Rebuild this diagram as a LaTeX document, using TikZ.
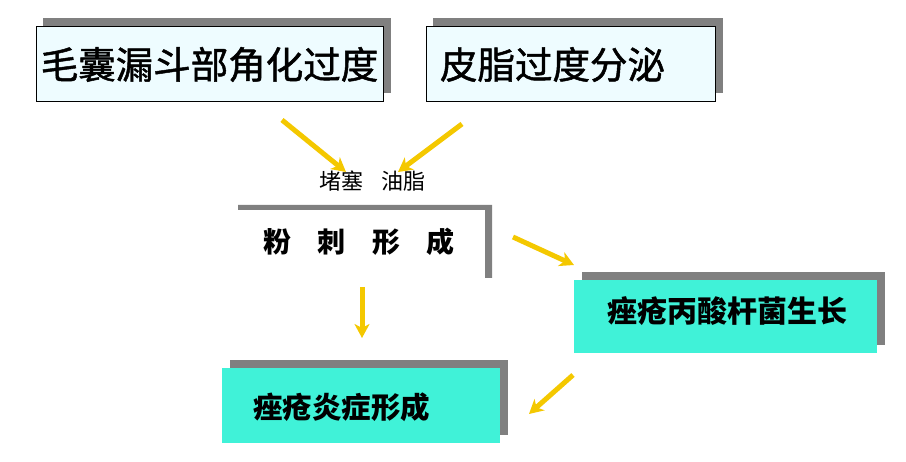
\documentclass[tikz,border=0pt]{standalone}
\usepackage{fontspec}
\setmainfont{Noto Sans CJK SC}
\newfontfamily\cjkmed[FakeBold=1.3]{Noto Sans CJK SC}
\usetikzlibrary{arrows.meta}
\definecolor{paleblue}{RGB}{238,252,255}
\definecolor{turq}{RGB}{64,242,216}
\definecolor{shadowgray}{RGB}{128,128,128}
\definecolor{arrowgold}{RGB}{244,200,0}
\begin{document}
\begin{tikzpicture}[x=1pt,y=-1pt,
  shadowrect/.style={fill=shadowgray, draw=none},
  palebox/.style={draw=black, line width=1pt, fill=paleblue, inner sep=0pt, minimum height=75pt},
  turqbox/.style={draw=none, fill=turq, inner sep=0pt},
  bigtext/.style={font=\fontsize{37.5}{40}\selectfont\cjkmed},
  boldtext/.style={font=\fontsize{30}{32}\selectfont\bfseries, inner sep=0pt},
  arr/.style={draw=arrowgold, line width=5pt, -{Stealth[length=14pt,width=15pt,inset=4pt]}}]
\useasboundingbox (0,0) rectangle (906,462);
% box 1
\fill[shadowrect] (43,18) rectangle (391,93);
\node[palebox, bigtext, minimum width=347pt] (a) at (209.5,64.5) {毛囊漏斗部角化过度};
% box 2
\fill[shadowrect] (433,18) rectangle (723,93);
\node[palebox, bigtext, text width=261pt, inner xsep=14pt, align=left] (b) at (570.5,64.5) {皮脂过度分泌};
% label
\node[font=\fontsize{22}{24}\selectfont, inner sep=0pt] (l) at (372.5,181) {堵塞\hspace{19pt}油脂};
% box 3 (frame only)
\fill[shadowgray] (238,205) -- (492,205) -- (492,278) -- (485,278) -- (485,210) -- (238,210) -- cycle;
\node[font=\fontsize{28}{30}\selectfont\bfseries, inner sep=0pt] (c) at (359,242) {粉\hspace{0.95em}刺\hspace{0.95em}形\hspace{0.95em}成};
% box 4
\fill[shadowrect] (582,272) rectangle (885,345);
\node[turqbox, minimum width=303pt, minimum height=73pt] (d) at (725.5,316.5) {};
\node[boldtext] (dt) at (727.5,311) {痤疮丙酸杆菌生长};
% box 5
\fill[shadowrect] (230,360) rectangle (508,435);
\node[turqbox, minimum width=278pt, minimum height=75pt] (e) at (361,405.5) {};
\node[boldtext, font=\fontsize{29.5}{32}\selectfont\bfseries, anchor=west] (et) at (253,407) {痤疮炎症形成};
% arrows
\coordinate (p1) at (282,120);
\coordinate (q1) at (346,172);
\coordinate (p2) at (462,124);
\coordinate (q2) at (398,172);
\coordinate (p3) at (513,237);
\coordinate (q3) at (574,265);
\coordinate (p4) at (362,287);
\coordinate (q4) at (362,338);
\coordinate (p5) at (573,375);
\coordinate (q5) at (529,414);
\draw[arr] (p1) -- (q1);
\draw[arr] (p2) -- (q2);
\draw[arr] (p3) -- (q3);
\draw[arr] (p4) -- (q4);
\draw[arr] (p5) -- (q5);
\end{tikzpicture}
\end{document}
